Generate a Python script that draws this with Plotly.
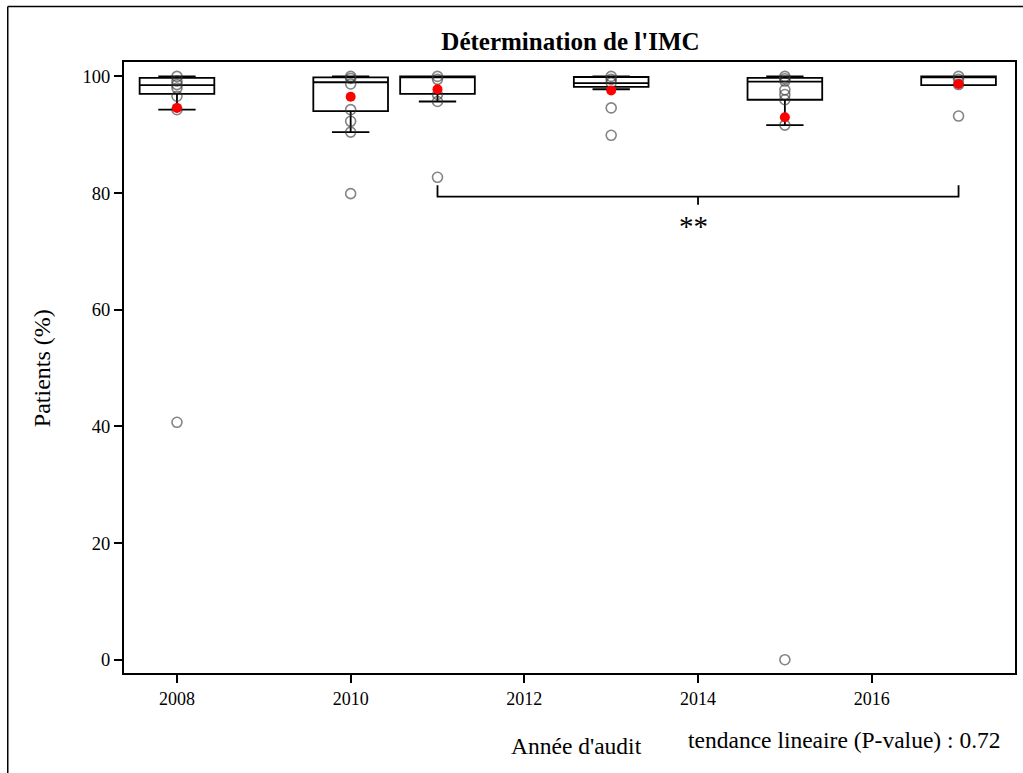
import plotly.graph_objects as go

years = [2008, 2010, 2011, 2013, 2015, 2017]
q1 = [97.0, 94.05, 97.0, 98.2, 96.0, 98.5]
median = [98.5, 99.0, 99.9, 98.85, 99.1, 99.9]
q3 = [99.76, 99.85, 100.0, 99.9, 99.76, 100.0]
lower_whisker = [94.3, 90.45, 95.7, 97.8, 91.65, 98.5]
upper_whisker = [100.0, 100.0, 100.0, 100.0, 100.0, 100.0]
means = [94.6, 96.5, 97.8, 97.6, 93.0, 98.7]

points = {
    2008: [100.0, 99.2, 98.6, 98.0, 96.6, 94.3, 40.7],
    2010: [100.0, 99.65, 98.7, 94.3, 92.3, 90.45, 79.9],
    2011: [100.0, 99.5, 96.9, 95.7, 82.7],
    2013: [100.0, 99.5, 98.9, 94.6, 89.9],
    2015: [100.0, 99.6, 99.2, 97.7, 96.9, 96.0, 91.65, 0.0],
    2017: [100.0, 99.5, 98.6, 93.2],
}

x_ticks = [2008, 2010, 2012, 2014, 2016]
y_ticks = [0, 20, 40, 60, 80, 100]

bracket_x = [2011, 2017]
bracket_y = 79.4
bracket_top = 81.35
bracket_mid_low = 78.0
signif_text = "**"
signif_y = 74.3

FONT = "Liberation Serif"

fig = go.Figure()

fig.add_trace(go.Box(
    x=years, q1=q1, median=median, q3=q3,
    lowerfence=lower_whisker, upperfence=upper_whisker,
    width=0.86, whiskerwidth=0.5, boxpoints=False,
    fillcolor="white", line=dict(color="black", width=1.8),
    showlegend=False, hoverinfo="skip",
))

px_, py_ = [], []
for yr, vals in points.items():
    for v in vals:
        px_.append(yr)
        py_.append(v)
fig.add_trace(go.Scatter(
    x=px_, y=py_, mode="markers",
    marker=dict(symbol="circle-open", size=10, color="rgba(50,50,50,0.6)",
                line=dict(width=1.6, color="rgba(50,50,50,0.6)")),
    showlegend=False, hoverinfo="skip",
))

fig.add_trace(go.Scatter(
    x=years, y=means, mode="markers",
    marker=dict(symbol="circle", size=10, color="red"),
    showlegend=False, hoverinfo="skip",
))

# significance bracket
mid = (bracket_x[0] + bracket_x[1]) / 2
fig.add_trace(go.Scatter(
    x=[bracket_x[0], bracket_x[0], bracket_x[1], bracket_x[1]],
    y=[bracket_top, bracket_y, bracket_y, bracket_top],
    mode="lines", line=dict(color="black", width=1.8),
    showlegend=False, hoverinfo="skip",
))
fig.add_trace(go.Scatter(
    x=[mid, mid], y=[bracket_y, bracket_mid_low],
    mode="lines", line=dict(color="black", width=1.8),
    showlegend=False, hoverinfo="skip",
))
fig.add_annotation(x=mid - 0.05, y=signif_y, text=signif_text, showarrow=False,
                   font=dict(family=FONT, size=29, color="black"))

fig.update_layout(
    width=1023, height=773,
    margin=dict(l=124, r=6, t=62, b=100),
    paper_bgcolor="white", plot_bgcolor="white",
    font=dict(family=FONT, color="black"),
    title=dict(text="<b>Détermination de l'IMC</b>", x=570.5 / 1023, xanchor="center",
               y=1 - 41 / 773, yanchor="middle",
               font=dict(family=FONT, size=25, color="black")),
)
fig.update_xaxes(
    range=[2007.39, 2017.65], tickvals=x_ticks, ticktext=[str(t) for t in x_ticks],
    showgrid=False, zeroline=False, showline=True, mirror=True,
    linecolor="black", linewidth=2, ticks="outside", ticklen=8, tickwidth=1.8,
    tickcolor="black", tickfont=dict(family=FONT, size=18),
)
fig.update_yaxes(
    range=[-2.28, 102.47], tickvals=y_ticks, ticktext=[str(t) for t in y_ticks],
    showgrid=False, zeroline=False, showline=True, mirror=True,
    linecolor="black", linewidth=2, ticks="outside", ticklen=8, tickwidth=1.8,
    tickcolor="black", tickfont=dict(family=FONT, size=18.5),
)

fig.add_annotation(xref="paper", yref="paper", x=(578 - 124) / 893, y=(673 - 746) / 611,
                   text="Année d'audit", showarrow=False, xanchor="center", yanchor="middle",
                   font=dict(family=FONT, size=23.5, color="black"))
fig.add_annotation(xref="paper", yref="paper", x=(846.5 - 124) / 893, y=(673 - 740) / 611,
                   text="tendance lineaire (P-value) : 0.72", showarrow=False,
                   xanchor="center", yanchor="middle",
                   font=dict(family=FONT, size=23.5, color="black"))
fig.add_annotation(xref="paper", yref="paper", x=(42 - 124) / 893, y=(673 - 368) / 611,
                   text="Patients (%)", showarrow=False, textangle=-90,
                   xanchor="center", yanchor="middle",
                   font=dict(family=FONT, size=24, color="black"))

# outer frame (left and top edges)
fig.add_shape(type="line", xref="paper", yref="paper",
              x0=(7.5 - 124) / 893, x1=(7.5 - 124) / 893,
              y0=(673 - 780) / 611, y1=(673 - 6.5) / 611,
              line=dict(color="black", width=1.5))
fig.add_shape(type="line", xref="paper", yref="paper",
              x0=(7.5 - 124) / 893, x1=(1030 - 124) / 893,
              y0=(673 - 6.5) / 611, y1=(673 - 6.5) / 611,
              line=dict(color="black", width=1.5))

fig.write_html("out.html")
